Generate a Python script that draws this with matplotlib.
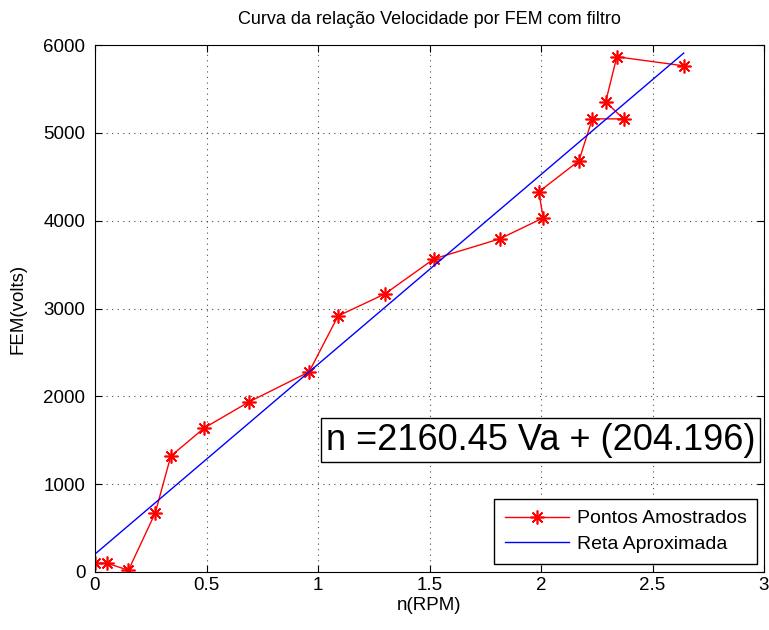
import numpy as np
import matplotlib
matplotlib.use("Agg")
import matplotlib.pyplot as plt

plt.rcParams["font.family"] = ["Liberation Sans", "DejaVu Sans"]

# sampled points (speed vs back-EMF)
va = [0.0, 0.054, 0.15, 0.27, 0.34, 0.49, 0.69, 0.96, 1.09, 1.30, 1.52,
      1.815, 2.01, 1.99, 2.17, 2.23, 2.37, 2.29, 2.34, 2.64]
fem = [100, 100, 20, 672, 1320, 1640, 1936, 2278, 2915, 3166, 3565,
       3793, 4032, 4328, 4681, 5159, 5159, 5353, 5866, 5763]

# fitted line coefficients
slope = 2160.45
intercept = 204.196

xticks = [0, 0.5, 1, 1.5, 2, 2.5, 3]
yticks = [0, 1000, 2000, 3000, 4000, 5000, 6000]

fig = plt.figure(figsize=(7.69, 6.30), dpi=100)
ax = fig.add_axes([95 / 769, 58 / 630, 669 / 769, 527 / 630])

# matlab-like '*' marker: 8 spokes
ax.plot(va, fem, color="red", marker=(8, 2, 0), markersize=10,
        markeredgewidth=1.2, linewidth=1, label="Pontos Amostrados")
xfit = np.array([min(va), max(va)])
ax.plot(xfit, slope * xfit + intercept, color="blue", linewidth=1,
        label="Reta Aproximada")

ax.set_xlim(0, 3)
ax.set_ylim(0, 6000)
ax.set_xticks(xticks)
ax.set_xticklabels(["0", "0.5", "1", "1.5", "2", "2.5", "3"])
ax.set_yticks(yticks)
ax.tick_params(direction="in", top=True, right=True, labelsize=13.5, length=5)
ax.tick_params(axis="y", pad=7)
ax.grid(True, color="black", linestyle=(0, (1, 4)), linewidth=0.8, alpha=0.7)

ax.set_title("Curva da relação Velocidade por FEM com filtro", fontsize=13, pad=15)
ax.set_xlabel("n(RPM)", fontsize=13.5, labelpad=2)
ax.set_ylabel("FEM(volts)", fontsize=13.5, labelpad=12)

ax.text(0.987, 0.25, "n =2160.45 Va + (204.196)", transform=ax.transAxes,
        fontsize=26, ha="right", va="center",
        bbox=dict(boxstyle="square,pad=0.12", facecolor="white",
                  edgecolor="black", linewidth=1))

leg = ax.legend(loc="lower right", bbox_to_anchor=(0.99, 0.016), fontsize=14,
                fancybox=False, framealpha=1, edgecolor="black",
                handlelength=3.3, borderpad=0.55, labelspacing=0.4,
                handletextpad=0.4, borderaxespad=0)
leg.get_frame().set_linewidth(1)

fig.savefig("out.png", dpi=100)
